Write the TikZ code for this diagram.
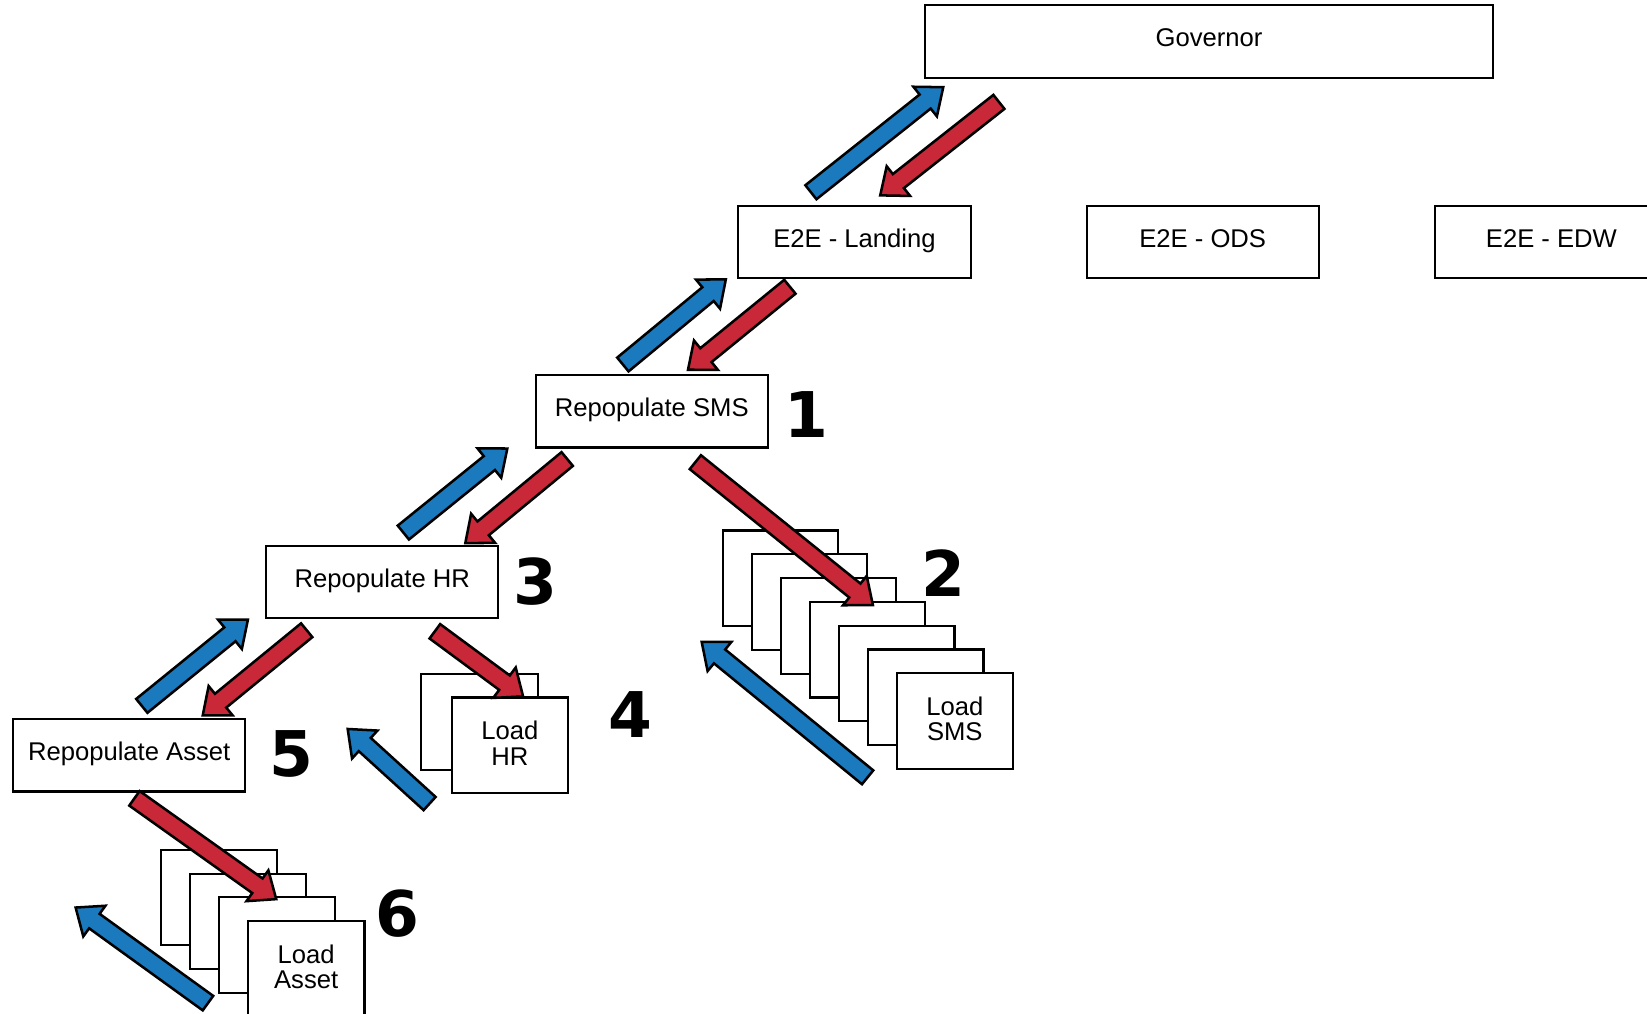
\documentclass[tikz,border=0pt]{standalone}
\usepackage{fontspec}
\setmainfont{Liberation Sans}
\newfontfamily\numfont{DejaVu Sans}
\usetikzlibrary{calc}
\definecolor{ablue}{RGB}{27,122,190}
\definecolor{ared}{RGB}{200,40,56}
\newcommand{\blkarrow}[3]{%
  \coordinate (bk-c) at ($(#3)!11pt!(#2)$);
  \filldraw[#1] ($(#2)!4.25pt!90:(#3)$) -- ($(bk-c)!4.25pt!90:(#3)$) -- ($(bk-c)!9pt!90:(#3)$) -- (#3) -- ($(bk-c)!9pt!-90:(#3)$) -- ($(bk-c)!4.25pt!-90:(#3)$) -- ($(#2)!4.25pt!-90:(#3)$) -- cycle;}
\tikzset{
  box/.style={draw, line width=1pt, fill=white, minimum width=110.5pt, minimum height=34.5pt, inner sep=0pt, text height=0.72em, text depth=0.21em, font=\fontsize{12.2}{12.2}\selectfont},
  ldbox/.style={draw, line width=1pt, fill=white, minimum width=55pt, minimum height=45.5pt, inner sep=0pt, align=center, font=\fontsize{12.2}{12.2}\selectfont},
  ldtext/.style={ldbox, text depth=0.21em},
  num/.style={inner sep=0pt, font=\fontsize{30}{30}\selectfont\numfont\bfseries},
  bluearr/.style={fill=ablue, draw=black, line width=1.2pt, line join=miter},
  redarr/.style={fill=ared, draw=black, line width=1.2pt, line join=miter}
}
\begin{document}
\begin{tikzpicture}[x=0.5pt, y=-0.5pt]
\useasboundingbox (0,0) rectangle (1568,965);
\clip (0,0) rectangle (1568,965);
\fill[white] (0,0) rectangle (1568,965);
% main boxes
\node[box, minimum width=270pt] (gov) at (1151,39.5) {Governor};
\node[box] (land) at (813.5,230.5) {E2E - Landing};
\node[box] (ods) at (1145,230.5) {E2E - ODS};
\node[box] (edw) at (1477,230.5) {E2E - EDW};
\node[box] (sms) at (620.5,391.5) {Repopulate SMS};
\node[box] (hr) at (364,554) {Repopulate HR};
\node[box] (asset) at (123,719) {Repopulate Asset};
% load SMS stack
\foreach \i in {0,...,5} \node[ldbox] (ls\i) at ({743+27.67*\i},{550.5+22.67*\i}) {};
\node[ldtext] (ls6) at (909,686.5) {Load\\SMS};
% load HR stack
\node[ldbox, minimum width=55.5pt] (lh0) at (456.5,687.5) {};
\node[ldtext, minimum width=55.5pt] (lh1) at (485.5,709.5) {Load\\HR};
% load asset stack
\foreach \i in {0,...,2} \node[ldbox, minimum width=55.5pt] (la\i) at ({208.5+27.67*\i},{854.5+22.67*\i}) {};
\node[ldtext, minimum width=55.5pt] (la3) at (291.5,922.5) {Load\\Asset};
% numbers
\node[num] (n1) at (768,395) {1};
\node[num] (n2) at (898,546) {2};
\node[num] (n3) at (510,554) {3};
\node[num] (n4) at (600,680) {4};
\node[num] (n5) at (277,718) {5};
\node[num] (n6) at (378,870) {6};
% arrow end points
\coordinate (a1s) at (772,183);  \coordinate (a1e) at (898,83);
\coordinate (a2s) at (951,97);   \coordinate (a2e) at (838,186);
\coordinate (a3s) at (593,347);  \coordinate (a3e) at (691,266);
\coordinate (a4s) at (752,273);  \coordinate (a4e) at (655,352);
\coordinate (a5s) at (384,507);  \coordinate (a5e) at (483,427);
\coordinate (a6s) at (540,437);  \coordinate (a6e) at (443,517);
\coordinate (a7s) at (662,440);  \coordinate (a7e) at (831,576);
\coordinate (a8s) at (826,740);  \coordinate (a8e) at (668,611);
\coordinate (a9s) at (135,672);  \coordinate (a9e) at (236,590);
\coordinate (a10s) at (292,600); \coordinate (a10e) at (193,681);
\coordinate (a11s) at (414,601); \coordinate (a11e) at (498,663);
\coordinate (a12s) at (409,765); \coordinate (a12e) at (331,694);
\coordinate (a13s) at (128,760); \coordinate (a13e) at (263,856);
\coordinate (a14s) at (198,955); \coordinate (a14e) at (72,864);
% arrows
\blkarrow{bluearr}{a1s}{a1e}
\blkarrow{redarr}{a2s}{a2e}
\blkarrow{bluearr}{a3s}{a3e}
\blkarrow{redarr}{a4s}{a4e}
\blkarrow{bluearr}{a5s}{a5e}
\blkarrow{redarr}{a6s}{a6e}
\blkarrow{redarr}{a7s}{a7e}
\blkarrow{bluearr}{a8s}{a8e}
\blkarrow{bluearr}{a9s}{a9e}
\blkarrow{redarr}{a10s}{a10e}
\blkarrow{redarr}{a11s}{a11e}
\blkarrow{bluearr}{a12s}{a12e}
\blkarrow{redarr}{a13s}{a13e}
\blkarrow{bluearr}{a14s}{a14e}
\end{tikzpicture}
\end{document}
